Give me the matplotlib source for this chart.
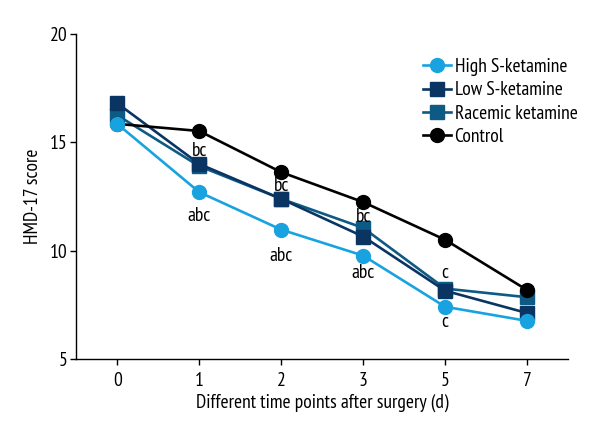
import matplotlib.pyplot as plt

plt.rcParams['font.family'] = ['PT Sans Narrow', 'DejaVu Sans']

days = ['0', '1', '2', '3', '5', '7']
high_s = [15.85, 12.70, 10.97, 9.77, 7.41, 6.76]
low_s = [16.80, 14.00, 12.39, 10.65, 8.15, 7.12]
racemic = [16.25, 13.90, 12.39, 11.05, 8.25, 7.85]
control = [15.85, 15.52, 13.62, 12.24, 10.50, 8.18]

# significance letters: (day index, y position, text)
marks = [(1, 14.6, 'bc'), (1, 11.6, 'abc'),
         (2, 13.0, 'bc'), (2, 9.75, 'abc'),
         (3, 11.55, 'bc'), (3, 8.95, 'abc'),
         (4, 8.95, 'c'), (4, 6.7, 'c')]

fs = 14

fig = plt.figure(figsize=(6, 4.4), dpi=100)
ax = fig.add_axes([0.127, 0.184, 0.82, 0.739])

x = range(len(days))
ax.plot(x, racemic, color='#0d5a84', marker='s', markersize=9.5, linewidth=1.9,
        label='Racemic ketamine', zorder=3)
ax.plot(x, low_s, color='#0a3563', marker='s', markersize=9.5, linewidth=1.9,
        label='Low S-ketamine', zorder=4)
ax.plot(x, control, color='black', marker='o', markersize=10, linewidth=1.9,
        label='Control', zorder=5)
ax.plot(x, high_s, color='#18a3e0', marker='o', markersize=10, linewidth=1.9,
        label='High S-ketamine', zorder=6)

for i, yv, txt in marks:
    ax.text(i, yv, txt, ha='center', va='center', fontsize=fs, zorder=7)

ax.set_xlim(-0.5, 5.5)
ax.set_ylim(5, 20)
ax.set_xticks(list(x))
ax.set_xticklabels(days)
ax.set_yticks([5, 10, 15, 20])
ax.tick_params(labelsize=fs, length=4, width=1, direction='out', pad=2)
ax.tick_params(axis='x', pad=5)
ax.spines['top'].set_visible(False)
ax.spines['right'].set_visible(False)
for s in ['left', 'bottom']:
    ax.spines[s].set_linewidth(1)

ax.set_xlabel('Different time points after surgery (d)', fontsize=fs, labelpad=3)
ax.set_ylabel('HMD-17 score', fontsize=fs, labelpad=6)

h, l = ax.get_legend_handles_labels()
order = [3, 1, 0, 2]
ax.legend([h[k] for k in order], [l[k] for k in order], loc='upper left',
          bbox_to_anchor=(0.69, 0.95), frameon=False, fontsize=fs,
          handlelength=1.4, handletextpad=0.2, labelspacing=0.28,
          borderaxespad=0)

fig.savefig('out.png')
